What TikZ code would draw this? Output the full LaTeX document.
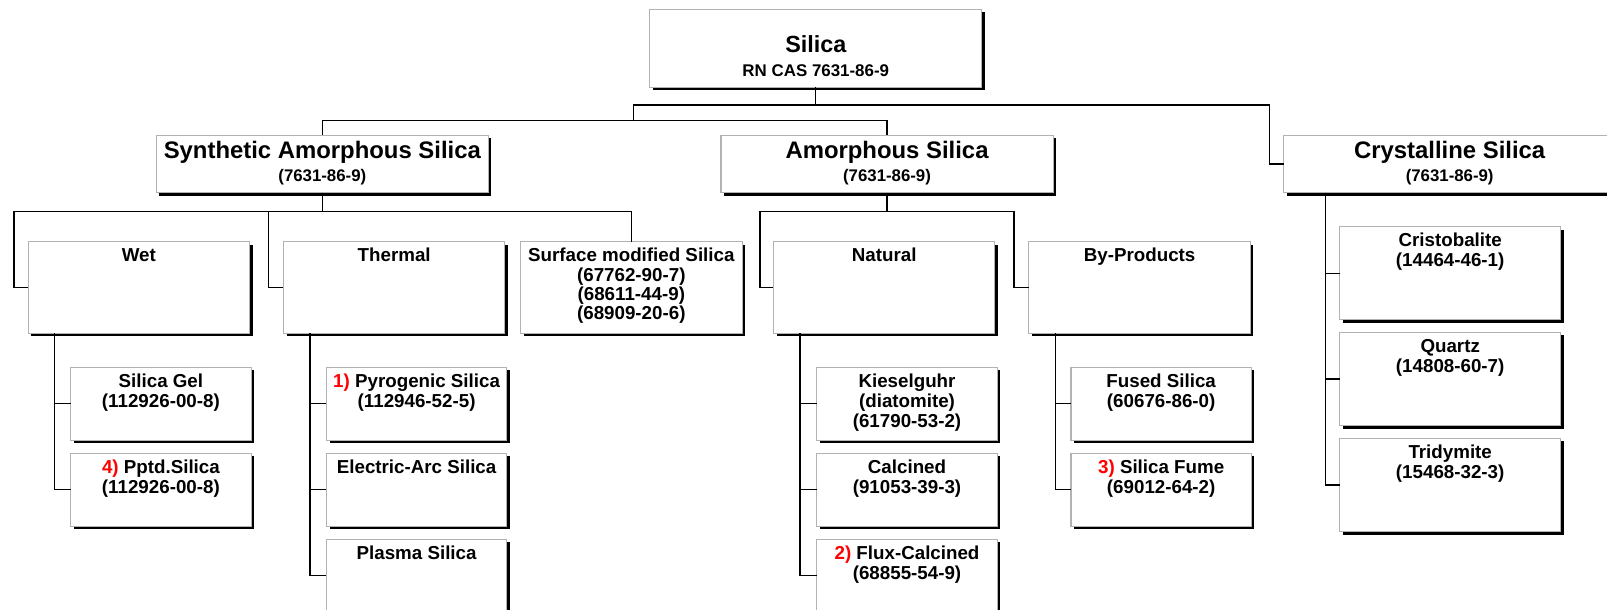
\documentclass[tikz,border=0pt]{standalone}
\usepackage{fontspec}
\setmainfont{Liberation Sans}
\usetikzlibrary{shadows}
\newcommand\bxt[6]{\parbox[c][#2][t]{#1}{\centering\fontsize{#3}{#4}\selectfont\rule{0pt}{#5}\ignorespaces#6\par}}
\newcommand\rn[1]{\textcolor{red}{#1}}
\begin{document}
\begin{tikzpicture}[x=0.5pt,y=-0.5pt,
  bx/.style={draw=gray!60, line width=0.5pt, fill=white, inner sep=0pt, outer sep=0pt, font=\bfseries,
    drop shadow={shadow xshift=1.5pt, shadow yshift=-1.5pt, fill=black, opacity=1}},
  ln/.style={line width=0.65pt, draw=black}]
\useasboundingbox (0,0) rectangle (1568,595);
\fill[white] (0,0) rectangle (1568,595);
\clip (0,0) rectangle (1568,595);

% level 0
\node[bx] (silica) at (796,47) {\bxt{162pt}{38pt}{11.4pt}{11.6pt}{21.15pt}{Silica\\\fontsize{8.25pt}{11.6pt}\selectfont RN CAS 7631-86-9}};

% level 1
\node[bx] (synth) at (314.5,160) {\bxt{162pt}{28pt}{11.65pt}{11.4pt}{11.25pt}{Synthetic Amorphous Silica\\\fontsize{8.2pt}{11.4pt}\selectfont(7631-86-9)}};
\node[bx] (amor) at (865.5,160) {\bxt{162pt}{28pt}{11.65pt}{11.4pt}{11.25pt}{Amorphous Silica\\\fontsize{8.2pt}{11.4pt}\selectfont(7631-86-9)}};
\node[bx] (crys) at (1414.5,160) {\bxt{162pt}{28pt}{11.65pt}{11.4pt}{11.25pt}{Crystalline Silica\\\fontsize{8.2pt}{11.4pt}\selectfont(7631-86-9)}};

% level 2
\node[bx] (wet) at (135.5,280.5) {\bxt{108pt}{44.5pt}{9.15pt}{9.35pt}{9.75pt}{Wet}};
\node[bx] (thermal) at (384.6,280.5) {\bxt{108pt}{44.5pt}{9.15pt}{9.35pt}{9.75pt}{Thermal}};
\node[bx] (surface) at (616,280.5) {\bxt{108pt}{44.5pt}{9.15pt}{9.35pt}{9.75pt}{Surface modified Silica\\(67762-90-7)\\(68611-44-9)\\(68909-20-6)}};
\node[bx] (natural) at (862.7,280.5) {\bxt{108pt}{44.5pt}{9.15pt}{9.35pt}{9.75pt}{Natural}};
\node[bx] (byprod) at (1112,280.5) {\bxt{108pt}{44.5pt}{9.15pt}{9.35pt}{9.75pt}{By-Products}};

% level 3 (wet)
\node[bx] (gel) at (157,393.9) {\bxt{88pt}{35.5pt}{9.15pt}{9.9pt}{9.75pt}{Silica Gel\\(112926-00-8)}};
\node[bx] (pptd) at (157,477.8) {\bxt{88pt}{35.5pt}{9.15pt}{9.9pt}{9.75pt}{\rn{4)} Pptd.Silica\\(112926-00-8)}};
% thermal
\node[bx] (pyro) at (406.5,393.9) {\bxt{88pt}{35.5pt}{9.15pt}{9.9pt}{9.75pt}{\rn{1)} Pyrogenic Silica\\(112946-52-5)}};
\node[bx] (arc) at (406.5,477.8) {\bxt{88pt}{35.5pt}{9.15pt}{9.9pt}{9.75pt}{Electric-Arc Silica}};
\node[bx] (plasma) at (406.5,561.5) {\bxt{88pt}{35.5pt}{9.15pt}{9.9pt}{9.75pt}{Plasma Silica}};
% natural
\node[bx] (kiesel) at (885,393.9) {\bxt{88pt}{35.5pt}{9.15pt}{9.9pt}{9.75pt}{Kieselguhr\\(diatomite)\\(61790-53-2)}};
\node[bx] (calc) at (885,477.8) {\bxt{88pt}{35.5pt}{9.15pt}{9.9pt}{9.75pt}{Calcined\\(91053-39-3)}};
\node[bx] (flux) at (885,561.5) {\bxt{88pt}{35.5pt}{9.15pt}{9.9pt}{9.75pt}{\rn{2)} Flux-Calcined\\(68855-54-9)}};
% by-products
\node[bx] (fused) at (1133,393.9) {\bxt{88pt}{35.5pt}{9.15pt}{9.9pt}{9.75pt}{Fused Silica\\(60676-86-0)}};
\node[bx] (fume) at (1133,477.8) {\bxt{88pt}{35.5pt}{9.15pt}{9.9pt}{9.75pt}{\rn{3)} Silica Fume\\(69012-64-2)}};
% crystalline
\node[bx] (cristo) at (1415,266.7) {\bxt{107.7pt}{45.5pt}{9.15pt}{9.9pt}{9.75pt}{Cristobalite\\(14464-46-1)}};
\node[bx] (quartz) at (1415,369.7) {\bxt{107.7pt}{45.5pt}{9.15pt}{9.9pt}{9.75pt}{Quartz\\(14808-60-7)}};
\node[bx] (tridy) at (1415,473.2) {\bxt{107.7pt}{45.5pt}{9.15pt}{9.9pt}{9.75pt}{Tridymite\\(15468-32-3)}};

% connectors
\draw[ln] (silica.south) -- (796,102.5) -| (618,117.5) -| (synth.north);
\draw[ln] (silica.south) -- (796,102.5) -| (618,117.5) -| (amor.north);
\draw[ln] (silica.south) -- (796,102.5) -- (1238.5,102.5) |- (crys.west);

\draw[ln] (synth.south) |- (13.7,206.5) |- (wet.west);
\draw[ln] (synth.south) |- (262,206.5) |- (thermal.west);
\draw[ln] (synth.south) |- (616,206.5) -- (surface.north);
\draw[ln] (amor.south) |- (741.5,206.5) |- (natural.west);
\draw[ln] (amor.south) |- (989.5,206.5) |- (byprod.west);

\draw[ln] ([xshift=13pt]wet.south west) |- (gel.west);
\draw[ln] ([xshift=13pt]wet.south west) |- (pptd.west);
\draw[ln] ([xshift=13pt]thermal.south west) |- (pyro.west);
\draw[ln] ([xshift=13pt]thermal.south west) |- (arc.west);
\draw[ln] ([xshift=13pt]thermal.south west) |- (plasma.west);
\draw[ln] ([xshift=13pt]natural.south west) |- (kiesel.west);
\draw[ln] ([xshift=13pt]natural.south west) |- (calc.west);
\draw[ln] ([xshift=13pt]natural.south west) |- (flux.west);
\draw[ln] ([xshift=13pt]byprod.south west) |- (fused.west);
\draw[ln] ([xshift=13pt]byprod.south west) |- (fume.west);
\draw[ln] ([xshift=20.5pt]crys.south west) |- (cristo.west);
\draw[ln] ([xshift=20.5pt]crys.south west) |- (quartz.west);
\draw[ln] ([xshift=20.5pt]crys.south west) |- (tridy.west);
\end{tikzpicture}
\end{document}
